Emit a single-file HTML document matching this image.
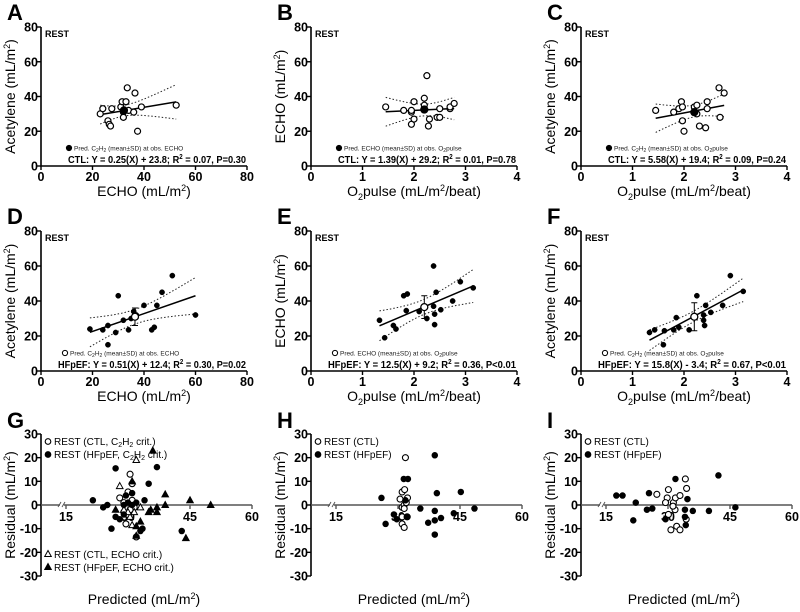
<!DOCTYPE html>
<html><head><meta charset="utf-8"><style>
html,body{margin:0;padding:0;background:#fff}
svg{display:block;font-family:"Liberation Sans",Arial,sans-serif}
</style></head><body>
<svg id="fig" width="800" height="612" viewBox="0 0 800 612"></svg>
<script>
// ---- data ----
const aX=[23,24,26,26.5,27,27.5,31,31.5,32,32,33,33.5,34,36,36.5,37.5,39,52.5];
const aY=[30,33,26,24,23,33,34,37,31,28,37,45,32,31,42,20,34,35];
const bX=[1.45,1.8,1.95,1.95,1.95,2.0,2.0,2.2,2.2,2.25,2.28,2.3,2.45,2.5,2.5,2.7,2.7,2.78];
const bY=[34,32,31,32,24,27,37,35,39,52,23,27,28,28,33,33,34,36];
const cX=[1.45,1.8,1.9,1.95,1.97,1.97,2.0,2.2,2.25,2.25,2.3,2.42,2.45,2.45,2.68,2.7,2.78];
const cY=[32,31,33,37,34,26,20,34,35,30,23,22,37,33,45,28,42];
const dX=[19,24,26,26,29,30,32,34,35,36,37,40,43,44,45,47,51,60];
const dY=[24,23.5,15,26,22,43,29,23.5,30,34,32,37.5,23.5,25,37.5,45,54.5,32];
const eX=[1.33,1.43,1.6,1.65,1.8,1.85,1.87,2.1,2.25,2.38,2.38,2.4,2.4,2.43,2.52,2.75,2.9,3.15];
const eY=[29,19,26,24,43,34.5,44,34,30,60,37,32.5,26.5,45,35,40,51,47.5];
const fX=[1.33,1.43,1.6,1.62,1.8,1.85,1.9,2.1,2.25,2.38,2.38,2.4,2.42,2.52,2.75,2.9,3.15];
const fY=[22,23.5,15,23,23.5,30.5,25,23.5,43,32,29,26,37.5,33.5,37.5,54.5,45.5];
const slopes=[0.25,1.39,5.58,0.51,12.5,15.8];
const intercepts=[23.8,29.2,19.4,12.4,9.2,-3.4];
const predX=[32.2,2.2,2.2,36.5,2.2,2.2];
const predY=[32,32.5,31,31,36.5,31];
const predSD=[0,0,0,5,6.5,8];
const eqText=["CTL: Y = 0.25(X) + 23.8; R","CTL: Y = 1.39(X) + 29.2; R","CTL: Y = 5.58(X) + 19.4; R","HFpEF: Y = 0.51(X) + 12.4; R","HFpEF: Y = 12.5(X) + 9.2; R","HFpEF: Y = 15.8(X) - 3.4; R"];
const eqTail=[" = 0.07, P=0.30"," = 0.01, P=0.78"," = 0.09, P=0.24"," = 0.30, P=0.02"," = 0.36, P<0.01"," = 0.67, P<0.01"];
const gOcX=[28,29,29.5,30,30.5,31,31,31,32,30,31.5,29,30.5];
const gOcY=[3,-3,-8,5.5,13,9,0,2,-13.5,-4,-1,1,-2];
const gOtX=[28,32,29,30.5,31,31.5,33,30];
const gOtY=[8,19,-2,-5,-8.5,-3,-1,-3];
const gFcX=[21.5,24,25,27,26,27,28,29,29.5,30,31,31,33,33.5,34,35,37,43,29,32];
const gFcY=[2,-1,0,-5,-10,15.5,-6,0,4,1,5,0,-11,-10,2,9,16,-11,-4,1];
const gFtX=[27,31,32,32,33,35,35.5,36,37,37,39,39,45,50,44];
const gFtY=[-2,10,-9,-13,-7,-3,-2,23,-1,-3,4.5,0,2,0,-14];
const hOcX=[30.5,31,31,31.8,31.6,31,31,31.5,31.5,32.3,32,32.2,31.5];
const hOcY=[2.5,-1,5.5,20,6.5,-5,-8,-9.5,0,3,1,-5,-1.5];
const hFcX=[26,27,29,29.7,31.4,32.4,31.8,32.3,35.4,37.3,38.9,38.9,38.9,39.4,38.9,40.4,43.5,45.2,48.5];
const hFcY=[3,-8,-4,-6,11,11,2,-5,-1.5,-7.5,21,-2.5,-6.5,5,-12.5,-5.5,-3.5,5.5,-1.5];
const iOcX=[27.3,29.8,30.1,29.4,30.7,31.3,31.8,31.7,32.1,32.9,32.9,31.2,34.2,34.5,34.4,30.1];
const iOcY=[4.5,3,6.5,1,-10.5,1,3,-2,-9,4,-10.5,-0.5,11,7,-6,-4];
const iFcX=[17.5,19,22.2,21.6,25.4,24.9,26.2,29.4,31.8,34.1,34.1,34.3,34.7,36,39.9,42.2,46.3];
const iFcY=[4,4,1,-6.5,5,-2,-1.5,-6,11,-2,-5,-8.5,2.5,-2.5,-2.5,12.5,-1];

const NS="http://www.w3.org/2000/svg";
const svg=document.getElementById('fig');
function el(tag,attrs,parent,txt){const e=document.createElementNS(NS,tag);for(const k in attrs)e.setAttribute(k,attrs[k]);if(txt!==undefined)e.textContent=txt;(parent||svg).appendChild(e);return e;}

const colX=[41,311,581];
const AXW=206;

function scatterPanel(i){
  const col=i%3,row=Math.floor(i/3);
  const x0=colX[col],yTop=row?231:27,yBot=row?371:166;
  const xmax=col===0?80:4;
  const xs=[aX,bX,cX,dX,eX,fX][i], ys=[aY,bY,cY,dY,eY,fY][i];
  const sx=v=>x0+v/xmax*AXW, sy=v=>yBot-v/80*(yBot-yTop);
  const g=el('g',{});
  
  
  const L=el('text',{x:x0-34,y:yTop-7,'font-size':22,'font-weight':'bold'},g,'ABCDEF'[i]);
  
  const ax=el('path',{d:`M${x0},${yTop} V${yBot} H${x0+AXW}`,stroke:'#000','stroke-width':1.6,fill:'none'},g);
  
  for(let k=0;k<=4;k++){
    const yv=k*20,yy=sy(yv);
    el('line',{x1:x0-4,x2:x0,y1:yy,y2:yy,stroke:'#000','stroke-width':1.4},g);
    const t=el('text',{x:x0-3,y:yy+4.5,'font-size':12.5,'font-weight':'bold','text-anchor':'end'},g,String(yv));
    
    const xv=k*xmax/4,xx=sx(xv);
    el('line',{x1:xx,x2:xx,y1:yBot,y2:yBot+4,stroke:'#000','stroke-width':1.4},g);
    const t2=el('text',{x:xx,y:yBot+15,'font-size':12.5,'font-weight':'bold','text-anchor':'middle'},g,String(xv));
    
  }
  const rest=el('text',{x:x0+4,y:yTop+10,'font-size':9,'font-weight':'bold'},g,'REST');
  
  const yl=['Acetylene','ECHO','Acetylene'][col];
  const yt=el('text',{transform:`translate(${x0-26},${(yTop+yBot)/2}) rotate(-90)`,'font-size':14,'text-anchor':'middle'},g);
  
  yt.appendChild(document.createTextNode(yl+' (mL/m'));
  el('tspan',{dy:-5,'font-size':9},yt,'2');el('tspan',{dy:5},yt,')');
  const xt=el('text',{x:x0+AXW/2,y:yBot+30,'font-size':14,'text-anchor':'middle'},g);
  
  if(col===0){xt.appendChild(document.createTextNode('ECHO (mL/m'));el('tspan',{dy:-5,'font-size':9},xt,'2');el('tspan',{dy:5},xt,')');}
  else{xt.appendChild(document.createTextNode('O'));el('tspan',{dy:4,'font-size':9},xt,'2');el('tspan',{dy:-4},xt,'pulse (mL/m');el('tspan',{dy:-5,'font-size':9},xt,'2');el('tspan',{dy:5},xt,'/beat)');}
  const m=slopes[i],b=intercepts[i],n=xs.length;
  const mx=xs.reduce((a,v)=>a+v,0)/n;
  let sxx=0,sse=0;xs.forEach((v,j)=>{sxx+=(v-mx)**2;sse+=(ys[j]-(m*v+b))**2;});
  const s=Math.sqrt(sse/(n-2));
  const xmin=Math.min(...xs),xmx=Math.max(...xs);
  let up='',lo='';
  for(let k=0;k<=30;k++){const v=xmin+(xmx-xmin)*k/30;const h=2.1*s*Math.sqrt(1/n+(v-mx)**2/sxx);const f=m*v+b;
    up+=(k?'L':'M')+sx(v).toFixed(1)+','+sy(f+h).toFixed(1);lo+=(k?'L':'M')+sx(v).toFixed(1)+','+sy(f-h).toFixed(1);}
  const cu=el('path',{d:up,stroke:'#222','stroke-width':1,'stroke-dasharray':'1.5,2',fill:'none'},g);
  
  const cl=el('path',{d:lo,stroke:'#222','stroke-width':1,'stroke-dasharray':'1.5,2',fill:'none'},g);
  
  const rl=el('line',{x1:sx(xmin),y1:sy(m*xmin+b),x2:sx(xmx),y2:sy(m*xmx+b),stroke:'#000','stroke-width':1.5},g);
  
  const open=row===0;
  xs.forEach((v,j)=>{
    const c=el('circle',{cx:sx(v),cy:sy(ys[j]),r:open?3:2.6,fill:open?'#fff':'#000',stroke:'#000','stroke-width':open?1.2:0.5},g);
    
  });
  const px=sx(predX[i]),py=sy(predY[i]);
  if(predSD[i]>0){
    const e1=sy(predY[i]+predSD[i]),e2=sy(predY[i]-predSD[i]);
    const eb=el('path',{d:`M${px},${e1}V${e2}M${px-3},${e1}H${px+3}M${px-3},${e2}H${px+3}`,stroke:'#000','stroke-width':1},g);
    
  }
  const pc=el('circle',{cx:px,cy:py,r:3.5,fill:open?'#000':'#fff',stroke:'#000','stroke-width':1.3},g);
  
  const lgx=x0+28+(row?-4:0);
  const lc=el('circle',{cx:lgx,cy:yBot-18,r:2.6,fill:open?'#000':'#fff',stroke:'#000','stroke-width':1},g);
  
  const lt=el('text',{x:lgx+5,y:yBot-15.5,'font-size':6.5,fill:'#222'},g);
  
  if(col===1){lt.appendChild(document.createTextNode('Pred. ECHO (mean±SD) at obs. O'));el('tspan',{dy:1.5,'font-size':5},lt,'2');el('tspan',{dy:-1.5},lt,'pulse');}
  else{lt.appendChild(document.createTextNode('Pred. C'));el('tspan',{dy:1.5,'font-size':5},lt,'2');el('tspan',{dy:-1.5},lt,'H');el('tspan',{dy:1.5,'font-size':5},lt,'2');
    if(col===0)el('tspan',{dy:-1.5},lt,' (mean±SD) at obs. ECHO');else{el('tspan',{dy:-1.5},lt,' (mean±SD) at obs. O');el('tspan',{dy:1.5,'font-size':5},lt,'2');el('tspan',{dy:-1.5},lt,'pulse');}}
  const eqW=row?188:178;
  const eq=el('text',{x:x0+AXW-1-eqW,y:yBot-3,'font-size':10.5,'font-weight':'bold',textLength:eqW,lengthAdjust:'spacingAndGlyphs'},g);
  
  eq.appendChild(document.createTextNode(eqText[i]));el('tspan',{dy:-4,'font-size':7},eq,'2');el('tspan',{dy:4},eq,eqTail[i]);
}
for(let i=0;i<6;i++)scatterPanel(i);

function resPanel(col,series,legendTop,legendBot){
  const x0=colX[col],yTop=434,yBot=576,y0=505;
  const sx=v=>x0+25+(v-15)*186/45, sy=v=>y0-v*(yBot-yTop)/60;
  const g=el('g',{});
  
  
  const L=el('text',{x:x0-34,y:yTop-6,'font-size':22,'font-weight':'bold'},g,'GHI'[col]);
  
  const ya=el('line',{x1:x0,x2:x0,y1:yTop,y2:yBot,stroke:'#000','stroke-width':1.6},g);
  
  const xa=el('path',{d:`M${x0},${y0}H${x0+19}M${x0+23},${y0}H${x0+211}`,stroke:'#555','stroke-width':1.6},g);
  
  el('path',{d:`M${x0+17},${y0+2}l3,-5M${x0+21},${y0+2}l3,-5`,stroke:'#555','stroke-width':1},g);
  for(let v=-30;v<=30;v+=10){const yy=sy(v);
    el('line',{x1:x0-4,x2:x0,y1:yy,y2:yy,stroke:'#000','stroke-width':1.4},g);
    const t=el('text',{x:x0-3,y:yy+4.5,'font-size':12.5,'font-weight':'bold','text-anchor':'end'},g,String(v));
    }
  for(let v=15;v<=60;v+=15){const xx=sx(v);
    el('line',{x1:xx,x2:xx,y1:y0,y2:y0+4,stroke:'#555','stroke-width':1.4},g);
    const t=el('text',{x:xx,y:y0+16,'font-size':12.5,'font-weight':'bold','text-anchor':'middle'},g,String(v));
    }
  const yt=el('text',{transform:`translate(${x0-26},${(yTop+yBot)/2}) rotate(-90)`,'font-size':14,'text-anchor':'middle'},g);
  
  yt.appendChild(document.createTextNode('Residual (mL/m'));el('tspan',{dy:-5,'font-size':9},yt,'2');el('tspan',{dy:5},yt,')');
  const xt=el('text',{x:x0+AXW/2,y:604,'font-size':14,'text-anchor':'middle'},g);
  
  xt.appendChild(document.createTextNode('Predicted (mL/m'));el('tspan',{dy:-5,'font-size':9},xt,'2');el('tspan',{dy:5},xt,')');
  series.forEach(sr=>{
    sr.x.forEach((v,j)=>{
      const cx=sx(v),cy=sy(sr.y[j]);let m;
      if(sr.shape==='c')m=el('circle',{cx:cx,cy:cy,r:sr.fill?2.7:3,fill:sr.fill?'#000':'#fff',stroke:'#000','stroke-width':1.1},g);
      else m=el('path',{d:`M${cx},${cy-3.5}L${cx+3.3},${cy+2.5}L${cx-3.3},${cy+2.5}Z`,fill:sr.fill?'#000':'#fff',stroke:'#000','stroke-width':1},g);
      
    });
  });
  function legendRow(ly,shape,fill,label,sub){
    const lx=x0+7;let m;
    if(shape==='c')m=el('circle',{cx:lx,cy:ly-3.5,r:2.8,fill:fill?'#000':'#fff',stroke:'#000','stroke-width':1.1},g);
    else m=el('path',{d:`M${lx},${ly-7.5}L${lx+3.3},${ly-1.5}L${lx-3.3},${ly-1.5}Z`,fill:fill?'#000':'#fff',stroke:'#000','stroke-width':1},g);
    
    const t=el('text',{x:lx+6,y:ly,'font-size':10},g);
    
    if(sub){t.appendChild(document.createTextNode(label+', C'));el('tspan',{dy:2,'font-size':7},t,'2');el('tspan',{dy:-2},t,'H');el('tspan',{dy:2,'font-size':7},t,'2');el('tspan',{dy:-2},t,' crit.)');}
    else t.appendChild(document.createTextNode(label));
  }
  legendTop.forEach((l,k)=>legendRow(445+k*13,l[0],l[1],l[2],l[3]));
  legendBot.forEach((l,k)=>legendRow(558+k*13,l[0],l[1],l[2],l[3]));
}
resPanel(0,[{x:gOcX,y:gOcY,shape:'c',fill:false},{x:gOtX,y:gOtY,shape:'t',fill:false},{x:gFcX,y:gFcY,shape:'c',fill:true},{x:gFtX,y:gFtY,shape:'t',fill:true}],
  [['c',false,'REST (CTL',true],['c',true,'REST (HFpEF',true]],[['t',false,'REST (CTL, ECHO crit.)',false],['t',true,'REST (HFpEF, ECHO crit.)',false]]);
resPanel(1,[{x:hOcX,y:hOcY,shape:'c',fill:false},{x:hFcX,y:hFcY,shape:'c',fill:true}],[['c',false,'REST (CTL)',false],['c',true,'REST (HFpEF)',false]],[]);
resPanel(2,[{x:iOcX,y:iOcY,shape:'c',fill:false},{x:iFcX,y:iFcY,shape:'c',fill:true}],[['c',false,'REST (CTL)',false],['c',true,'REST (HFpEF)',false]],[]);
</script>
</body></html>
